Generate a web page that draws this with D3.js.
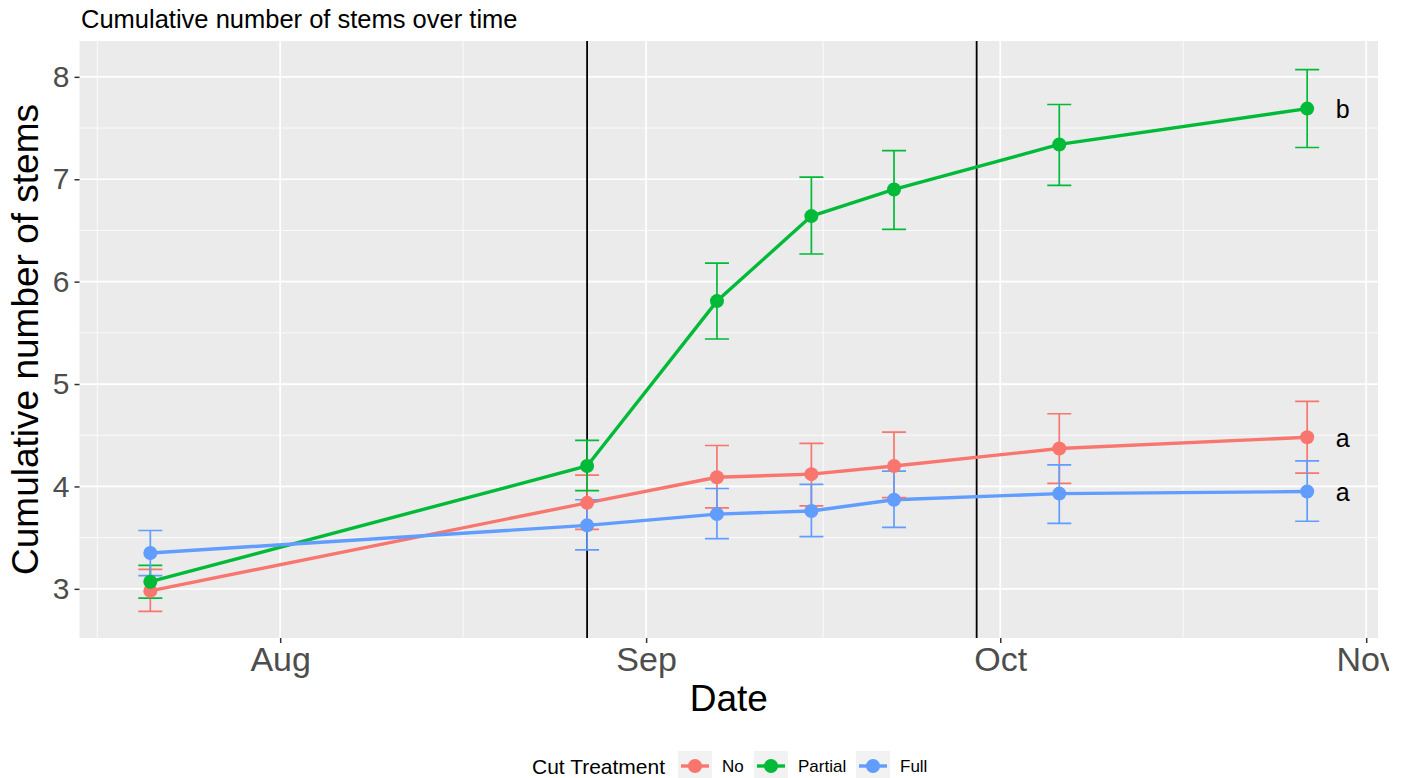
<!DOCTYPE html>
<html>
<head>
<meta charset="utf-8">
<script src="https://cdn.jsdelivr.net/npm/d3@7"></script>
<style>
  body { margin: 0; background: #fff; }
  svg { display: block; overflow: hidden; font-family: "Liberation Sans", Arial, sans-serif; }
</style>
</head>
<body>
<div class="chart"></div>
<script>
// data
const dates = ["2019-07-21", "2019-08-27", "2019-09-07", "2019-09-15", "2019-09-22", "2019-10-06", "2019-10-27"];
const treatments = ["No", "Partial", "Full"];
const colorsList = ["#F8766D", "#00BA38", "#619CFF"];

const noMean = [2.98, 3.84, 4.09, 4.12, 4.20, 4.37, 4.48];
const noLow = [2.78, 3.58, 3.79, 3.81, 3.89, 4.03, 4.13];
const noHigh = [3.19, 4.11, 4.40, 4.42, 4.53, 4.71, 4.83];

const partialMean = [3.07, 4.20, 5.81, 6.64, 6.90, 7.34, 7.69];
const partialLow = [2.91, 3.96, 5.44, 6.27, 6.51, 6.94, 7.31];
const partialHigh = [3.23, 4.45, 6.18, 7.02, 7.28, 7.73, 8.07];

const fullMean = [3.35, 3.62, 3.73, 3.76, 3.87, 3.93, 3.95];
const fullLow = [3.13, 3.38, 3.49, 3.51, 3.60, 3.64, 3.66];
const fullHigh = [3.57, 3.87, 3.98, 4.02, 4.15, 4.21, 4.25];

const cutDates = ["2019-08-27", "2019-09-29"];
const letterDate = "2019-10-30";
const letters = ["a", "b", "a"];

const monthTicks = ["2019-08-01", "2019-09-01", "2019-10-01", "2019-11-01"];
const monthMinor = ["2019-07-01", "2019-08-01", "2019-09-01", "2019-10-01", "2019-11-01"];
const yTicks = [3, 4, 5, 6, 7, 8];
const yMinor = [3.5, 4.5, 5.5, 6.5, 7.5];

const parse = d3.utcParse("%Y-%m-%d");

// build series from the arrays
const meansList = [noMean, partialMean, fullMean];
const lowsList = [noLow, partialLow, fullLow];
const highsList = [noHigh, partialHigh, fullHigh];
const series = treatments.map((name, i) => ({
    name: name,
    color: colorsList[i],
    letter: letters[i],
    values: dates.map((d, j) => ({
        date: parse(d),
        mean: meansList[i][j],
        low: lowsList[i][j],
        high: highsList[i][j]
    }))
}));

// layout
var width = 1389, height = 778;
var panel = { left: 79.5, right: 1378, top: 41, bottom: 638 };

let x = d3.scaleUtc()
    .domain([parse("2019-07-15"), parse("2019-11-02")])
    .range([panel.left, panel.right]);

let y = d3.scaleLinear()
    .domain([2.52, 8.35])
    .range([panel.bottom, panel.top]);

const svg = d3.select(".chart").append("svg")
    .attr("width", width)
    .attr("height", height);

// panel background
svg.append("rect")
    .attr("x", panel.left)
    .attr("y", panel.top)
    .attr("width", panel.right - panel.left)
    .attr("height", panel.bottom - panel.top)
    .attr("fill", "#ebebeb");

// minor grid: midpoints between month breaks
const minorX = d3.pairs(monthMinor.map(parse)).map(([a, b]) => (x(a) + x(b)) / 2)
    .filter(px => px > panel.left && px < panel.right);

const grid = svg.append("g").attr("stroke", "#fff");
grid.selectAll(".vminor").data(minorX).join("line")
    .attr("x1", d => d).attr("x2", d => d)
    .attr("y1", panel.top).attr("y2", panel.bottom)
    .attr("stroke-width", 0.8);
grid.selectAll(".hminor").data(yMinor).join("line")
    .attr("x1", panel.left).attr("x2", panel.right)
    .attr("y1", d => y(d)).attr("y2", d => y(d))
    .attr("stroke-width", 0.8);
grid.selectAll(".vmajor").data(monthTicks.map(parse)).join("line")
    .attr("x1", d => x(d)).attr("x2", d => x(d))
    .attr("y1", panel.top).attr("y2", panel.bottom)
    .attr("stroke-width", 1.7);
grid.selectAll(".hmajor").data(yTicks).join("line")
    .attr("x1", panel.left).attr("x2", panel.right)
    .attr("y1", d => y(d)).attr("y2", d => y(d))
    .attr("stroke-width", 1.7);

// cut dates
svg.append("g").selectAll("line").data(cutDates.map(parse)).join("line")
    .attr("x1", d => x(d)).attr("x2", d => x(d))
    .attr("y1", panel.top).attr("y2", panel.bottom)
    .attr("stroke", "#000")
    .attr("stroke-width", 1.8);

// axes
let xAxis = g => g
    .attr("transform", `translate(0,${panel.bottom})`)
    .call(d3.axisBottom(x).tickValues(monthTicks.map(parse)).tickFormat(d3.utcFormat("%b")).tickSize(5).tickPadding(4))
    .call(g => g.select(".domain").remove())
    .call(g => g.selectAll(".tick line").attr("stroke", "#333").attr("stroke-width", 1.5))
    .call(g => g.selectAll(".tick text").attr("fill", "#4d4d4d").attr("font-size", 34).attr("font-family", "Liberation Sans, Arial, sans-serif"));

let yAxis = g => g
    .attr("transform", `translate(${panel.left},0)`)
    .call(d3.axisLeft(y).tickValues(yTicks).tickFormat(d3.format("d")).tickSize(5).tickPadding(5))
    .call(g => g.select(".domain").remove())
    .call(g => g.selectAll(".tick line").attr("stroke", "#333").attr("stroke-width", 1.5))
    .call(g => g.selectAll(".tick text").attr("fill", "#4d4d4d").attr("font-size", 30).attr("font-family", "Liberation Sans, Arial, sans-serif"));

svg.append("g").call(xAxis);
svg.append("g").call(yAxis);

// lines
let line = d3.line()
    .x(d => x(d.date))
    .y(d => y(d.mean));

svg.append("g")
    .attr("fill", "none")
    .attr("stroke-width", 3.4)
    .attr("stroke-linejoin", "round")
    .selectAll("path")
    .data(series)
    .join("path")
    .attr("d", d => line(d.values))
    .attr("stroke", d => d.color);

// error bars
const capHalf = 12;
const bars = svg.append("g")
    .attr("fill", "none")
    .attr("stroke-width", 1.7)
    .selectAll("g")
    .data(series)
    .join("g")
    .attr("stroke", d => d.color);
bars.selectAll("path")
    .data(d => d.values)
    .join("path")
    .attr("d", d => {
        const cx = x(d.date), hi = y(d.high), lo = y(d.low);
        return `M${cx - capHalf},${hi}H${cx + capHalf}M${cx},${hi}V${lo}M${cx - capHalf},${lo}H${cx + capHalf}`;
    });

// points
svg.append("g")
    .selectAll("g")
    .data(series)
    .join("g")
    .attr("fill", d => d.color)
    .selectAll("circle")
    .data(d => d.values)
    .join("circle")
    .attr("cx", d => x(d.date))
    .attr("cy", d => y(d.mean))
    .attr("r", 7);

// significance letters
svg.append("g")
    .selectAll("text")
    .data(series)
    .join("text")
    .attr("x", x(parse(letterDate)))
    .attr("y", d => y(d.values[d.values.length - 1].mean))
    .attr("dy", "0.38em")
    .attr("text-anchor", "middle")
    .attr("font-size", 25)
    .attr("fill", "#000")
    .text(d => d.letter);

// titles
svg.append("text")
    .attr("x", 81)
    .attr("y", 28)
    .attr("font-size", 25.5)
    .attr("fill", "#000")
    .text("Cumulative number of stems over time");

svg.append("text")
    .attr("transform", `translate(38,${(panel.top + panel.bottom) / 2}) rotate(-90)`)
    .attr("text-anchor", "middle")
    .attr("font-size", 37)
    .attr("fill", "#000")
    .text("Cumulative number of stems");

svg.append("text")
    .attr("x", (panel.left + panel.right) / 2)
    .attr("y", 711)
    .attr("text-anchor", "middle")
    .attr("font-size", 37)
    .attr("fill", "#000")
    .text("Date");

// legend
const legend = svg.append("g").attr("transform", "translate(0,766)");
legend.append("text")
    .attr("x", 532)
    .attr("dy", "0.36em")
    .attr("font-size", 21)
    .attr("fill", "#000")
    .text("Cut Treatment");

const keyX = [678, 754, 856];
const keys = legend.selectAll(".key")
    .data(series)
    .join("g")
    .attr("class", "key")
    .attr("transform", (d, i) => `translate(${keyX[i]},0)`);
keys.append("rect")
    .attr("x", 0).attr("y", -15)
    .attr("width", 34).attr("height", 30)
    .attr("fill", "#f2f2f2");
keys.append("line")
    .attr("x1", 3).attr("x2", 31)
    .attr("stroke", d => d.color)
    .attr("stroke-width", 3.4);
keys.append("circle")
    .attr("cx", 17)
    .attr("r", 7)
    .attr("fill", d => d.color);
keys.append("text")
    .attr("x", 44)
    .attr("dy", "0.36em")
    .attr("font-size", 17)
    .attr("fill", "#000")
    .text(d => d.name);
</script>
</body>
</html>
